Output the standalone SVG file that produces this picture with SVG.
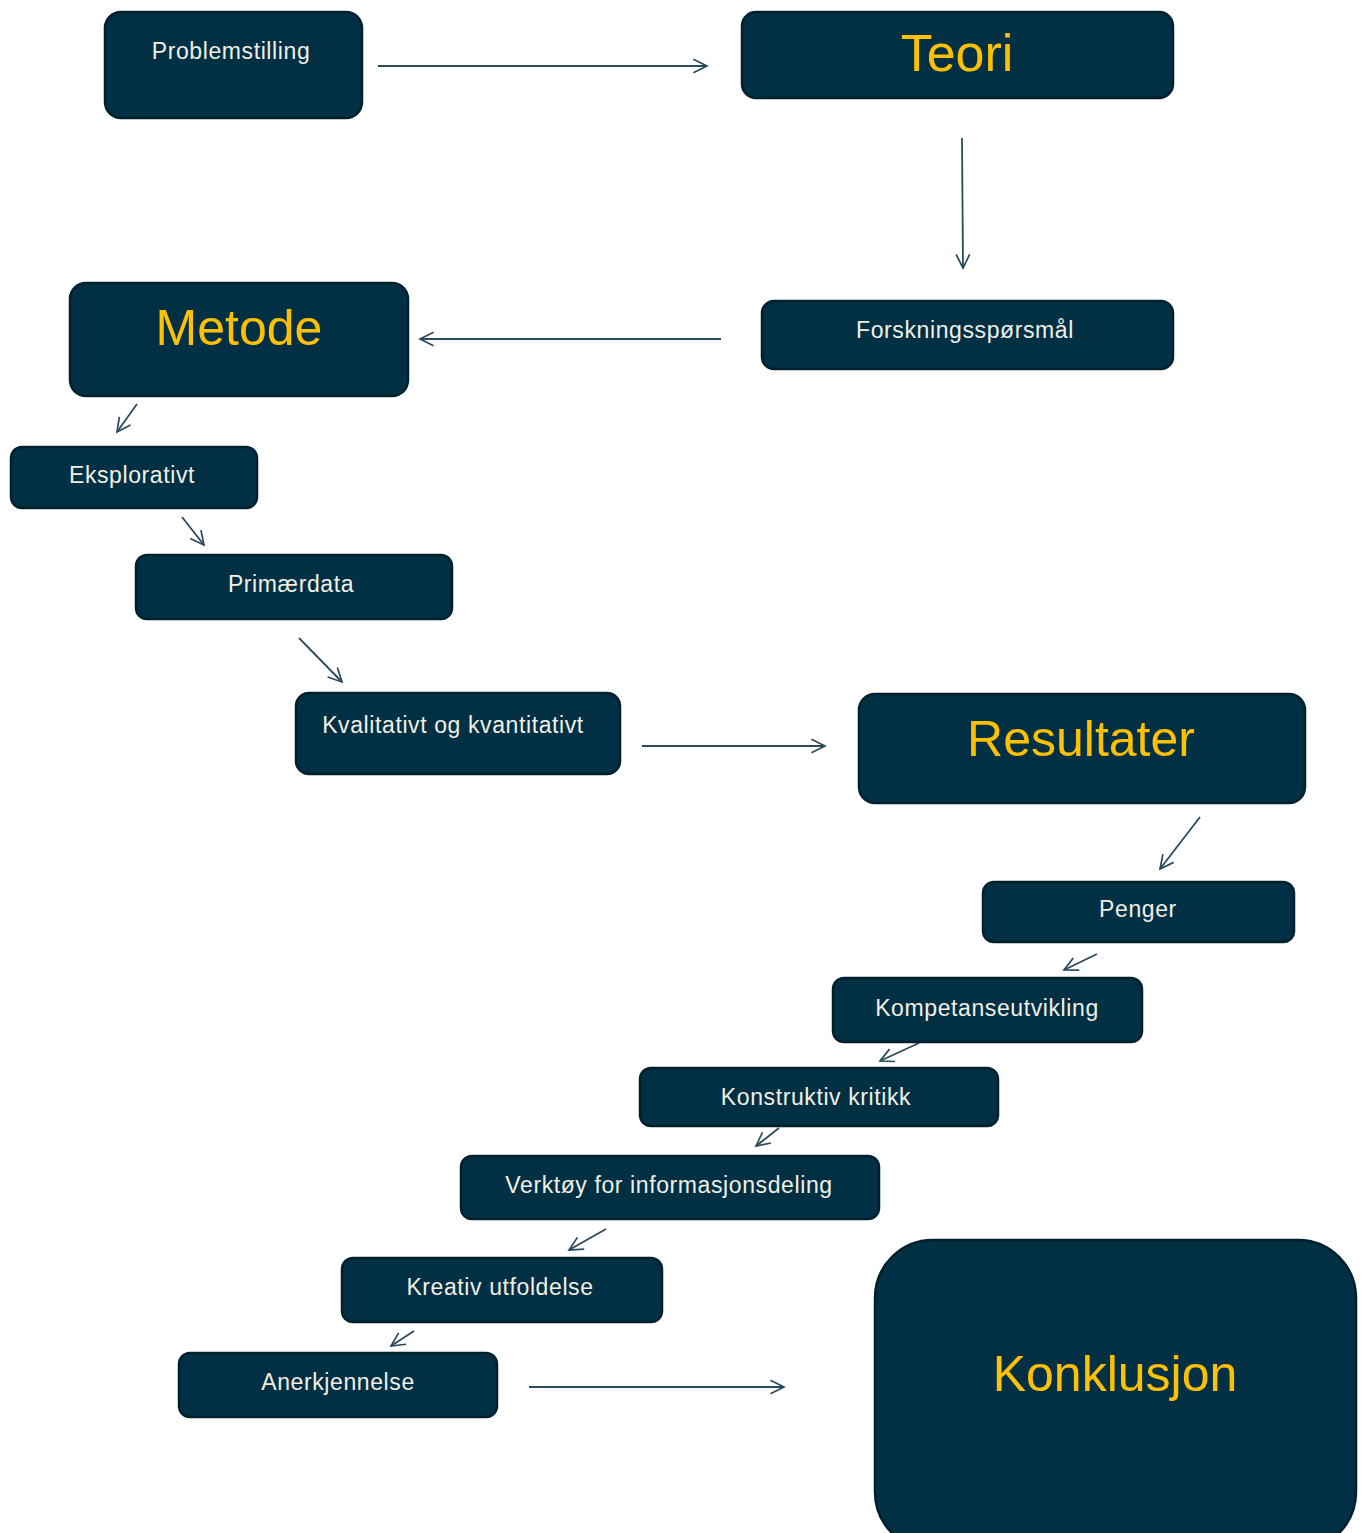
<svg xmlns="http://www.w3.org/2000/svg" width="1366" height="1533" viewBox="0 0 1366 1533">
<style>
.box{fill:#013044;stroke:#00202e;stroke-width:2.5}
.lbl{font-family:"Liberation Sans",Arial,sans-serif;font-size:23px;fill:#f2efe4;text-anchor:middle;letter-spacing:0.6px}
.ttl{font-family:"Liberation Sans",Arial,sans-serif;fill:#ffc000;text-anchor:middle}
.con{stroke:#2b4a5c;stroke-width:1.8;fill:none;marker-end:url(#ah)}
</style>
<defs>
<marker id="ah" viewBox="0 0 20 20" refX="18" refY="10" markerWidth="17" markerHeight="17" markerUnits="userSpaceOnUse" orient="auto">
<path d="M2,2 L18,10 L2,18" fill="none" stroke="#2b4a5c" stroke-width="2"/>
</marker>
</defs>
<rect width="1366" height="1533" fill="#ffffff"/>
<g id="connectors">
<line class="con" x1="378" y1="66" x2="707" y2="66"/>
<line class="con" x1="962" y1="138" x2="963" y2="268"/>
<line class="con" x1="721" y1="339" x2="420" y2="339"/>
<line class="con" x1="137" y1="404" x2="117" y2="432"/>
<line class="con" x1="182" y1="517" x2="204" y2="545"/>
<line class="con" x1="299" y1="638" x2="342" y2="682"/>
<line class="con" x1="642" y1="746" x2="825" y2="746"/>
<line class="con" x1="1200" y1="817" x2="1160" y2="869"/>
<line class="con" x1="1097" y1="954" x2="1064" y2="970"/>
<line class="con" x1="919" y1="1043" x2="880" y2="1061"/>
<line class="con" x1="779" y1="1128" x2="756" y2="1146"/>
<line class="con" x1="606" y1="1229" x2="569" y2="1250"/>
<line class="con" x1="414" y1="1331" x2="391" y2="1346"/>
<line class="con" x1="529" y1="1387" x2="784" y2="1387"/>
</g>
<g id="problemstilling"><rect class="box" x="105" y="12" width="257" height="106" rx="16"/><text class="lbl" x="231" y="59">Problemstilling</text></g>
<g id="teori"><rect class="box" x="742" y="12" width="431" height="86" rx="14"/><text class="ttl" x="957" y="71" font-size="52">Teori</text></g>
<g id="forskningssporsmal"><rect class="box" x="762" y="301" width="411" height="68" rx="12"/><text class="lbl" x="965" y="338">Forskningsspørsmål</text></g>
<g id="metode"><rect class="box" x="70" y="283" width="338" height="113" rx="16"/><text class="ttl" x="239" y="345" font-size="50">Metode</text></g>
<g id="eksplorativt"><rect class="box" x="11" y="447" width="246" height="61" rx="11"/><text class="lbl" x="132" y="483">Eksplorativt</text></g>
<g id="primaerdata"><rect class="box" x="136" y="555" width="316" height="64" rx="11"/><text class="lbl" x="291" y="592">Primærdata</text></g>
<g id="kvalitativt"><rect class="box" x="296" y="693" width="324" height="81" rx="13"/><text class="lbl" x="453" y="733">Kvalitativt og kvantitativt</text></g>
<g id="resultater"><rect class="box" x="859" y="694" width="446" height="109" rx="16"/><text class="ttl" x="1081" y="756" font-size="50">Resultater</text></g>
<g id="penger"><rect class="box" x="983" y="882" width="311" height="60" rx="11"/><text class="lbl" x="1138" y="917">Penger</text></g>
<g id="kompetanseutvikling"><rect class="box" x="833" y="978" width="309" height="64" rx="11"/><text class="lbl" x="987" y="1016">Kompetanseutvikling</text></g>
<g id="konstruktiv"><rect class="box" x="640" y="1068" width="358" height="58" rx="11"/><text class="lbl" x="816" y="1105">Konstruktiv kritikk</text></g>
<g id="verktoy"><rect class="box" x="461" y="1156" width="418" height="63" rx="11"/><text class="lbl" x="669" y="1193">Verktøy for informasjonsdeling</text></g>
<g id="kreativ"><rect class="box" x="342" y="1258" width="320" height="64" rx="11"/><text class="lbl" x="500" y="1295">Kreativ utfoldelse</text></g>
<g id="anerkjennelse"><rect class="box" x="179" y="1353" width="318" height="64" rx="11"/><text class="lbl" x="338" y="1390">Anerkjennelse</text></g>
<g id="konklusjon"><rect class="box" x="875" y="1240" width="481" height="310" rx="58"/><text class="ttl" x="1115" y="1391" font-size="50">Konklusjon</text></g>
</svg>
